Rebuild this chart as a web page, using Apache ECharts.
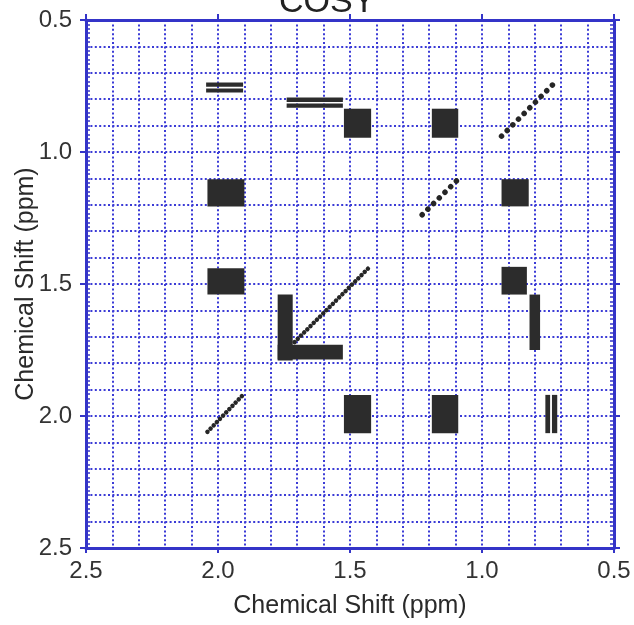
<!DOCTYPE html>
<html><head><meta charset="utf-8">
<script src="https://cdn.jsdelivr.net/npm/echarts@6/dist/echarts.min.js"></script>
<style>html,body{margin:0;padding:0;background:#fff}#c{width:634px;height:625px}</style>
</head><body><div id="c"></div>
<script>
// Axis ranges / labels (ppm)
const axisMin = 0.5;
const axisMax = 2.5;
const majorStep = 0.5;
const titleText = 'COSY';
const axisName = 'Chemical Shift (ppm)';

// Cross peaks: [x1, x2, y1, y2] in ppm
const crossPeaks = [
  [2.045, 1.905, 0.737, 0.753],
  [2.045, 1.905, 0.759, 0.775],
  [1.740, 1.527, 0.794, 0.811],
  [1.740, 1.527, 0.816, 0.832],
  [1.523, 1.420, 0.836, 0.946],
  [1.190, 1.090, 0.836, 0.946],
  [2.040, 1.900, 1.103, 1.206],
  [0.926, 0.823, 1.103, 1.206],
  [2.040, 1.900, 1.440, 1.540],
  [0.926, 0.830, 1.435, 1.540],
  [0.820, 0.780, 1.540, 1.750],
  [1.774, 1.717, 1.540, 1.790],
  [1.774, 1.527, 1.730, 1.786],
  [1.523, 1.420, 1.920, 2.065],
  [1.190, 1.090, 1.920, 2.065],
  [0.760, 0.742, 1.920, 2.065],
  [0.735, 0.715, 1.920, 2.065]
];

// Diagonal peaks: [x1, y1, x2, y2] in ppm
const diagonalSparse = [
  [0.926, 0.940, 0.724, 0.737],
  [1.097, 1.110, 1.245, 1.256]
];
const diagonalDense = [
  [1.710, 1.720, 1.430, 1.440],
  [2.040, 2.060, 1.905, 1.920]
];

const blue = '#3434c8';
const gridDot = '#3b3bd6';
const font = "'Liberation Sans', Arial, sans-serif";

const chart = echarts.init(document.getElementById('c'));

function baseAxis(extra) {
  return Object.assign({
    type: 'value', min: axisMin, max: axisMax, inverse: true
  }, extra);
}
const gridLine = {show: true, lineStyle: {color: gridDot, width: 2, type: [2, 2.4]}};
const hiddenAxisParts = {
  axisLabel: {show: false}, splitLine: {show: false}
};

const peakRender = function (params, api) {
  const p1 = api.coord([api.value(0), api.value(2)]);
  const p2 = api.coord([api.value(1), api.value(3)]);
  return {
    type: 'rect',
    shape: {
      x: Math.min(p1[0], p2[0]), y: Math.min(p1[1], p2[1]),
      width: Math.abs(p2[0] - p1[0]), height: Math.abs(p2[1] - p1[1])
    },
    style: {fill: '#2c2c2c'}
  };
};
function diagRender(width, gap) {
  return function (params, api) {
    const p1 = api.coord([api.value(0), api.value(1)]);
    const p2 = api.coord([api.value(2), api.value(3)]);
    return {
      type: 'line',
      shape: {x1: p1[0], y1: p1[1], x2: p2[0], y2: p2[1]},
      style: {stroke: '#262626', lineWidth: width, lineDash: [0.01, gap], lineCap: 'round'}
    };
  };
}

chart.setOption({
  animation: false,
  backgroundColor: '#ffffff',
  title: {
    text: titleText, left: 274, top: -19,
    textStyle: {fontFamily: font, fontSize: 34, fontWeight: 'normal', color: '#222'}
  },
  grid: {left: 86, right: 20, top: 20, bottom: 77, containLabel: false, outerBoundsMode: 'none'},
  xAxis: [
    baseAxis({
      position: 'bottom', interval: majorStep,
      name: axisName, nameLocation: 'middle', nameGap: 46, nameMoveOverlap: false,
      nameTextStyle: {fontFamily: font, fontSize: 25, color: '#2a2a2a'},
      axisLine: {show: true, onZero: false, lineStyle: {color: blue, width: 3}},
      axisTick: {show: true, inside: false, length: 5, lineStyle: {color: blue, width: 2}},
      axisLabel: {show: true, margin: 11, fontFamily: font, fontSize: 24, color: '#333',
        formatter: v => v.toFixed(1)},
      splitLine: gridLine,
      minorTick: {show: false, splitNumber: 5},
      minorSplitLine: gridLine
    }),
    baseAxis(Object.assign({
      position: 'top', interval: majorStep,
      axisLine: {show: true, onZero: false, lineStyle: {color: blue, width: 3}},
      axisTick: {show: true, inside: false, length: 6, lineStyle: {color: blue, width: 2}}
    }, hiddenAxisParts))
  ],
  yAxis: [
    baseAxis({
      position: 'left', interval: majorStep,
      name: axisName, nameLocation: 'middle', nameGap: 47, nameRotate: 90, nameMoveOverlap: false,
      nameTextStyle: {fontFamily: font, fontSize: 25, color: '#2a2a2a'},
      axisLine: {show: true, onZero: false, lineStyle: {color: blue, width: 3}},
      axisTick: {show: true, inside: false, length: 6, lineStyle: {color: blue, width: 2}},
      axisLabel: {show: true, margin: 14, fontFamily: font, fontSize: 24, color: '#333',
        formatter: v => v.toFixed(1)},
      splitLine: gridLine,
      minorTick: {show: false, splitNumber: 5},
      minorSplitLine: gridLine
    }),
    baseAxis(Object.assign({
      position: 'right', interval: majorStep,
      axisLine: {show: true, onZero: false, lineStyle: {color: blue, width: 3}},
      axisTick: {show: true, inside: false, length: 6, lineStyle: {color: blue, width: 2}}
    }, hiddenAxisParts)),
    baseAxis(Object.assign({
      position: 'left', interval: 0.1,
      axisLine: {show: false},
      axisTick: {show: true, inside: true, length: 4, lineStyle: {color: blue, width: 1.5}},
      minorTick: {show: true, splitNumber: 6, length: 4, lineStyle: {color: blue, width: 1.5}}
    }, hiddenAxisParts)),
    baseAxis(Object.assign({
      position: 'right', interval: 0.1,
      axisLine: {show: false},
      axisTick: {show: true, inside: true, length: 4, lineStyle: {color: blue, width: 1.5}},
      minorTick: {show: true, splitNumber: 6, length: 4, lineStyle: {color: blue, width: 1.5}}
    }, hiddenAxisParts))
  ],
  series: [
    {
      type: 'custom', xAxisIndex: 0, yAxisIndex: 0, z: 5,
      renderItem: peakRender, encode: {x: [0, 1], y: [2, 3]}, data: crossPeaks
    },
    {
      type: 'custom', xAxisIndex: 0, yAxisIndex: 0, z: 5,
      renderItem: diagRender(5.5, 8), encode: {x: [0, 2], y: [1, 3]}, data: diagonalSparse
    },
    {
      type: 'custom', xAxisIndex: 0, yAxisIndex: 0, z: 5,
      renderItem: diagRender(4.5, 4.5), encode: {x: [0, 2], y: [1, 3]}, data: diagonalDense
    }
  ]
});
</script></body></html>
